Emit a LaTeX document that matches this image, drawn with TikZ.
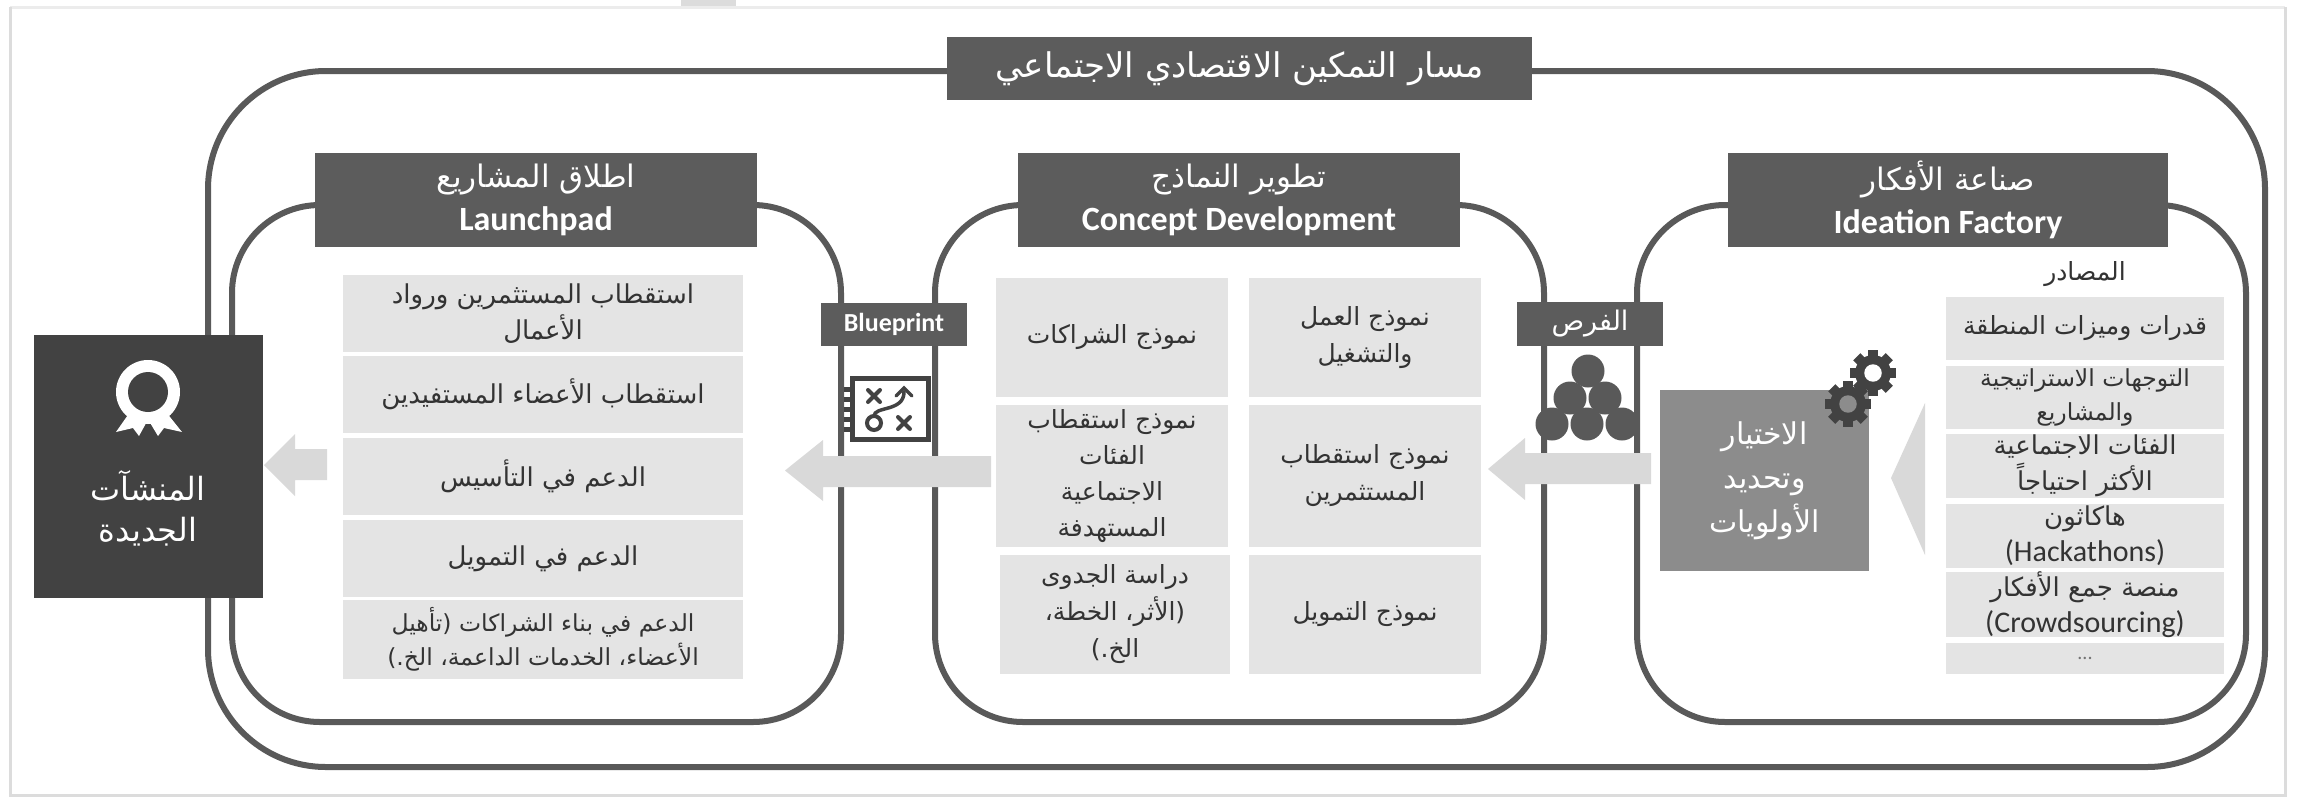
\documentclass[tikz,border=0pt]{standalone}
\usepackage{fontspec}
\TeXXeTstate=1
\setmainfont{Carlito}
\newfontfamily\arabicfont[Script=Arabic]{DejaVu Sans}
\newcommand{\ar}[1]{{\arabicfont\beginR #1\endR}}
\definecolor{framecol}{HTML}{595959}
\definecolor{headcol}{HTML}{5C5C5C}
\definecolor{itemcol}{HTML}{E4E4E4}
\definecolor{arrowcol}{HTML}{D9D9D9}
\definecolor{darkcol}{HTML}{424242}
\definecolor{selcol}{HTML}{8C8C8C}
\definecolor{textcol}{HTML}{333333}
\definecolor{edgecol}{HTML}{DCDCDC}
\definecolor{topedgecol}{HTML}{ECECEC}
\tikzset{
  framebox/.style={draw=framecol,line width=6pt,fill=none,inner sep=0pt,rectangle},
  headbox/.style={fill=headcol,text=white,inner sep=0pt,align=center,font=\fontsize{31}{43}\selectfont},
  tagbox/.style={fill=headcol,text=white,inner sep=0pt,align=center},
  itembox/.style={fill=itemcol,text=textcol,inner sep=0pt,align=center,font=\fontsize{25}{37}\selectfont},
  blockarrow/.style={fill=arrowcol,draw=none},
  gearbody/.style={fill=darkcol,draw=none},
  iconline/.style={draw=darkcol,line width=4pt,line cap=round},
}
\newcommand{\latinhead}[1]{{\fontsize{34}{43}\selectfont\bfseries #1}}
\newcommand{\gearshape}[4]{% x y radius hole
  \fill[gearbody] (#1,#2) circle[radius=#3*0.78];
  \foreach \a in {0,45,...,315}{
    \fill[gearbody,shift={(#1,#2)},rotate=\a] (-#3*0.22,-#3) rectangle (#3*0.22,0);
  }
  \fill[#4] (#1,#2) circle[radius=#3*0.38];
}
\begin{document}
\begin{tikzpicture}[x=1pt,y=-1pt]
\useasboundingbox (0,0) rectangle (2303,796);
\fill[white] (0,0) rectangle (2303,796);
% page edges
\fill[edgecol] (681,0) rectangle (736,8);
\draw[color=topedgecol,line width=3pt] (10,7) -- (2285,7);
\draw[color=edgecol,line width=3pt] (10,7) -- (10,795) -- (2285,795) -- (2285,7);
% frames
\node[framebox,rounded corners=118pt,minimum width=2057pt,minimum height=696pt] (outer) at (1236.5,419) {};
\node[framebox,rounded corners=88pt,minimum width=609pt,minimum height=517pt] (launchframe) at (536.5,463.5) {};
\node[framebox,rounded corners=88pt,minimum width=609pt,minimum height=517pt] (conceptframe) at (1239.5,463.5) {};
\node[framebox,rounded corners=88pt,minimum width=609pt,minimum height=517pt] (ideaframe) at (1941.5,463.5) {};
% title
\node[headbox,minimum width=585pt,minimum height=63pt,font=\fontsize{34}{40}\selectfont] (title) at (1239.5,68.5) {\ar{مسار التمكين الاقتصادي الاجتماعي}};
% headers
\node[headbox,minimum width=440pt,minimum height=94pt] (ideahead) at (1948,200) {\ar{صناعة الأفكار}\\\latinhead{Ideation Factory}};
\node[headbox,minimum width=442pt,minimum height=94pt] (concepthead) at (1239,200) {\ar{تطوير النماذج}\\\latinhead{Concept Development}};
\node[headbox,minimum width=442pt,minimum height=94pt] (launchhead) at (536,200) {\ar{اطلاق المشاريع}\\\latinhead{Launchpad}};
% sources
\node[text=textcol,inner sep=0pt,font=\fontsize{25}{30}\selectfont] (srclabel) at (2085,274) {\ar{المصادر}};
\node[itembox,minimum width=278pt,minimum height=63pt] (s1) at (2085,328.5) {\ar{قدرات وميزات المنطقة}};
\node[itembox,minimum width=278pt,minimum height=63pt,font=\fontsize{23.5}{34}\selectfont] (s2) at (2085,397.5) {\ar{التوجهات الاستراتيجية}\\\ar{والمشاريع}};
\node[itembox,minimum width=278pt,minimum height=64pt,font=\fontsize{26}{36}\selectfont] (s3) at (2085,466) {\ar{الفئات الاجتماعية}\\\ar{الأكثر احتياجاً}};
\node[itembox,minimum width=278pt,minimum height=64pt,font=\fontsize{26}{36}\selectfont] (s4) at (2085,536) {\ar{هاكاثون}\\{\fontsize{30}{36}\selectfont (Hackathons)}};
\node[itembox,minimum width=278pt,minimum height=65pt,font=\fontsize{26}{36}\selectfont] (s5) at (2085,604.5) {\ar{منصة جمع الأفكار}\\{\fontsize{30}{36}\selectfont (Crowdsourcing)}};
\node[itembox,minimum width=278pt,minimum height=31pt,font=\fontsize{20}{24}\selectfont,text=black!55] (s6) at (2085,658.5) {...};
% selection
\node[fill=selcol,text=white,inner sep=0pt,align=center,minimum width=209pt,minimum height=181pt,font=\fontsize{30}{44}\selectfont] (sel) at (1764.5,480.5) {\ar{الاختيار}\\\ar{وتحديد}\\\ar{الأولويات}};
\gearshape{1873}{373}{23}{white}
\gearshape{1848}{404}{23}{selcol}
% triangle
\fill[blockarrow] (1891,478) -- (1925,403) -- (1925,555) -- cycle;
% opportunities
\node[tagbox,minimum width=146pt,minimum height=44pt,font=\fontsize{27}{32}\selectfont] (forsa) at (1590,324) {\ar{الفرص}};
\foreach \cx/\cy in {1552/424,1587/424,1622/424,1570/398,1605/398,1588/371}{
  \fill[framecol] (\cx,\cy) circle[radius=16.5];
}
\fill[blockarrow] (1488,469) -- (1525,438) -- (1525,453) -- (1651,453) -- (1651,484) -- (1525,484) -- (1525,500) -- cycle;
% concept grid
\node[itembox,minimum width=232pt,minimum height=119pt] (c1) at (1365,337.5) {\ar{نموذج العمل}\\\ar{والتشغيل}};
\node[itembox,minimum width=232pt,minimum height=119pt] (c2) at (1112,337.5) {\ar{نموذج الشراكات}};
\node[itembox,minimum width=232pt,minimum height=142pt] (c3) at (1365,476) {\ar{نموذج استقطاب}\\\ar{المستثمرين}};
\node[itembox,minimum width=232pt,minimum height=142pt,font=\fontsize{25}{36}\selectfont] (c4) at (1112,476) {\ar{نموذج استقطاب}\\\ar{الفئات}\\\ar{الاجتماعية}\\\ar{المستهدفة}};
\node[itembox,minimum width=232pt,minimum height=119pt] (c5) at (1365,614.5) {\ar{نموذج التمويل}};
\node[itembox,minimum width=230pt,minimum height=119pt,font=\fontsize{25}{37}\selectfont] (c6) at (1115,614.5) {\ar{دراسة الجدوى}\\\ar{(الأثر، الخطة،}\\\ar{الخ.)}};
% blueprint
\node[tagbox,minimum width=146pt,minimum height=43pt,font=\fontsize{26}{30}\selectfont\bfseries] (blue) at (894,324.5) {Blueprint};
\fill[white] (850,376) rectangle (931,442);
\draw[draw=darkcol,line width=5pt] (852.5,378.5) rectangle (928.5,439.5);
\foreach \dy in {387,397,407,417,427}{\fill[darkcol] (844,\dy) rectangle (850,\dy+5);}
\draw[iconline] (868,390) -- (880,402) (880,390) -- (868,402);
\draw[iconline] (898,417) -- (910,429) (910,417) -- (898,429);
\draw[iconline] (874,423) circle[radius=7];
\draw[iconline,line width=3.5pt] (874,416) .. controls (874,406) and (904,412) .. (904,392);
\draw[iconline,line width=3.5pt] (896,396) -- (904,388) -- (912,396);
\fill[blockarrow] (785,470.5) -- (823,440) -- (823,456) -- (991,456) -- (991,487) -- (823,487) -- (823,501) -- cycle;
% launch items
\node[itembox,minimum width=400pt,minimum height=77pt,font=\fontsize{26}{36}\selectfont] (l1) at (543,313.5) {\ar{استقطاب المستثمرين ورواد}\\\ar{الأعمال}};
\node[itembox,minimum width=400pt,minimum height=77pt,font=\fontsize{26}{36}\selectfont] (l2) at (543,394.5) {\ar{استقطاب الأعضاء المستفيدين}};
\node[itembox,minimum width=400pt,minimum height=77pt,font=\fontsize{26}{36}\selectfont] (l3) at (543,476.5) {\ar{الدعم في التأسيس}};
\node[itembox,minimum width=400pt,minimum height=77pt,font=\fontsize{26}{36}\selectfont] (l4) at (543,558.5) {\ar{الدعم في التمويل}};
\node[itembox,minimum width=400pt,minimum height=79pt,font=\fontsize{23.5}{34}\selectfont] (l5) at (543,639.5) {\ar{الدعم في بناء الشراكات (تأهيل}\\\ar{الأعضاء، الخدمات الداعمة، الخ.)}};
% new ventures
\node[fill=darkcol,inner sep=0pt,minimum width=229pt,minimum height=263pt] (newbox) at (148.5,466.5) {};
\node[text=white,inner sep=0pt,align=center,font=\fontsize{32}{41}\selectfont] (newtext) at (148,508) {\ar{المنشآت}\\\ar{الجديدة}};
\fill[white] (130,412) -- (116,432) -- (133,428) -- (139,436) -- (150,416) -- cycle;
\fill[white] (166,412) -- (182,432) -- (164,428) -- (158,436) -- (146,416) -- cycle;
\fill[white] (148,392) circle[radius=32];
\fill[darkcol] (148,392) circle[radius=20];
\fill[blockarrow] (264,465) -- (295,434) -- (295,449) -- (327,449) -- (327,480) -- (295,480) -- (295,496) -- cycle;
\end{tikzpicture}
\end{document}
